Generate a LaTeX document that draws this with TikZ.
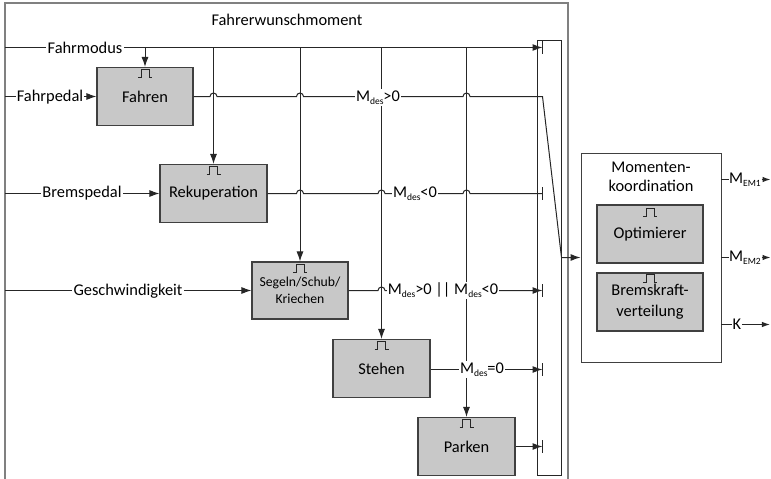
\documentclass[tikz,border=0pt]{standalone}
\usepackage{fontspec}
\setmainfont{Carlito}
\usetikzlibrary{arrows.meta,calc}
\definecolor{boxfill}{HTML}{C8C8C8}
\definecolor{boxline}{HTML}{404040}
\definecolor{framec}{HTML}{808080}
\newcommand\lowsub[1]{\raisebox{-0.4ex}{\fontsize{9.5}{10}\selectfont #1}}
\newcommand\Mdes{M\lowsub{des}}
\tikzset{
  pics/pulse/.style={code={\draw[line width=0.9pt,black!85] (-7,4)--(-4,4)--(-4,-4)--(4,-4)--(4,4)--(7,4);}},
  blk/.style={draw=boxline, fill=boxfill, line width=1.1pt, inner sep=0pt, align=center},
  ln/.style={draw=black!85, line width=1pt},
  arr/.style={ln, -{Latex[length=10pt,width=7pt]}},
  sarr/.style={ln, -{Latex[length=8pt,width=5.5pt]}},
  lab/.style={fill=white, inner sep=1.2pt},
  hop/.style 2 args={insert path={-- ($(#1 |- #2)+(-3.5pt,0pt)$) arc[start angle=180,end angle=0,radius=3.5pt]}}
}
\begin{document}
\begin{tikzpicture}[x=1pt,y=-1pt, font=\fontsize{16.4}{19}\selectfont]
\useasboundingbox (0,0) rectangle (771,479);
% outer frame
\draw[framec, line width=1.6pt] (5,479) -- (5,3) -- (568,3) -- (568,479);
\node (title) at (287,20) {Fahrerwunschmoment};
% blocks
\node[blk, minimum width=96pt, minimum height=58pt] (Fahren) at (145,96.5) {Fahren};
\node[blk, minimum width=107pt, minimum height=58pt] (Rekup) at (213.5,193.5) {Rekuperation};
\node[blk, minimum width=96pt, minimum height=57pt, font=\fontsize{13.7}{17}\selectfont] (Segeln) at (300,290.5) {Segeln/Schub/\\Kriechen};
\node[blk, minimum width=97pt, minimum height=58pt] (Stehen) at (381.5,368.5) {Stehen};
\node[blk, minimum width=97pt, minimum height=58pt] (Parken) at (466.5,446.5) {Parken};
\node[draw=black!85, line width=1pt, minimum width=24pt, minimum height=435pt, inner sep=0pt] (bar) at (549,257.5) {};
\node[draw=boxline, fill=white, line width=0.9pt, minimum width=140pt, minimum height=209pt, inner sep=0pt] (Mom) at (651,257.5) {};
\node[align=center] (MomT) at (651,176.5) {Momenten-\\koordination};
\node[blk, minimum width=106pt, minimum height=58pt] (Opt) at (650,234) {Optimierer};
\node[blk, minimum width=106pt, minimum height=58pt, font=\fontsize{16.4}{21}\selectfont] (Brems) at (650,302) {Bremskraft-\\verteilung};
\foreach \b/\d in {Fahren/6, Rekup/6, Segeln/6.5, Stehen/6, Parken/6, Opt/7.5, Brems/6}
  \pic at ($(\b.north)+(0,\d)$) {pulse};
% coordinates
\coordinate (fm) at (5,47.5);
\coordinate (px) at ([xshift=6pt]bar.west);
\coordinate (p0) at (px |- fm);
\coordinate (p2) at (px |- Rekup.east);
\coordinate (p3) at (px |- 0,290.5);
\coordinate (p4) at (px |- 0,369.5);
\coordinate (p5) at (px |- Parken.east);
\coordinate (k1) at (px |- Fahren.east);
\coordinate (k2) at (bar.east |- Mom.west);
\coordinate (fp) at (fm |- Fahren.west);
\coordinate (bp) at (fm |- Rekup.west);
\coordinate (gp) at (fm |- 0,290.5);
\coordinate (se) at (Segeln.east |- 0,290.5);
\coordinate (st) at (Stehen.east |- 0,369.5);
% Fahrmodus distribution
\draw[arr] (fm) -- (p0);
\foreach \b in {Fahren, Rekup, Segeln, Stehen, Parken}
  \draw[arr] (\b.north |- fm) -- (\b.north);
% inputs
\draw[arr] (fp) -- (Fahren.west);
\draw[arr] (bp) -- (Rekup.west);
\draw[arr] (gp) -- (Segeln.west |- gp);
% outputs to the bar
\draw[arr] (Fahren.east) [hop={Rekup.north}{Fahren.east}] [hop={Segeln.north}{Fahren.east}] [hop={Parken.north}{Fahren.east}] -- (k1) -- (k2) -- (Mom.west);
\draw[ln] (Rekup.east) [hop={Segeln.north}{Rekup.east}] [hop={Stehen.north}{Rekup.east}] [hop={Parken.north}{Rekup.east}] -- (p2);
\draw[arr] (se) [hop={Stehen.north}{se}] -- (p3);
\draw[arr] (st) -- (p4);
\draw[arr] (Parken.east) -- (p5);
\foreach \p in {p0,p2,p3,p4,p5}
  \draw[ln] ($(\p)+(0,-6.5)$) -- ($(\p)+(0,6.5)$);
% labels
\node[lab] (lfm) at (85,47.5) {Fahrmodus};
\node[lab] (lfp) at (50,97.5) {Fahrpedal};
\node[lab] (lbp) at (82,193.5) {Bremspedal};
\node[lab] (lgp) at (128,291) {Geschwindigkeit};
\node[lab] (l1) at (378,97.5) {\Mdes>0};
\node[lab] (l2) at (415,193.5) {\Mdes<0};
\node[lab] (l3) at (443,290.5) {\Mdes>0 || \Mdes<0};
\node[lab] (l4) at (482,369.5) {\Mdes=0};
% Momentenkoordination outputs
\node[inner sep=0.5pt] (em1) at (745,179.5) {M\lowsub{EM1}};
\node[inner sep=0.5pt] (em2) at (745,257.5) {M\lowsub{EM2}};
\node[inner sep=0.5pt] (kk) at (737,324.5) {K};
\draw[ln] (Mom.east |- em1) -- (em1.west);
\draw[sarr] (em1.east) -- ++(9,0);
\draw[ln] (Mom.east |- em2) -- (em2.west);
\draw[sarr] (em2.east) -- ++(9,0);
\draw[ln] (Mom.east |- kk) -- (kk.west);
\draw[sarr] (kk.east) -- ++(28,0);
\end{tikzpicture}
\end{document}
